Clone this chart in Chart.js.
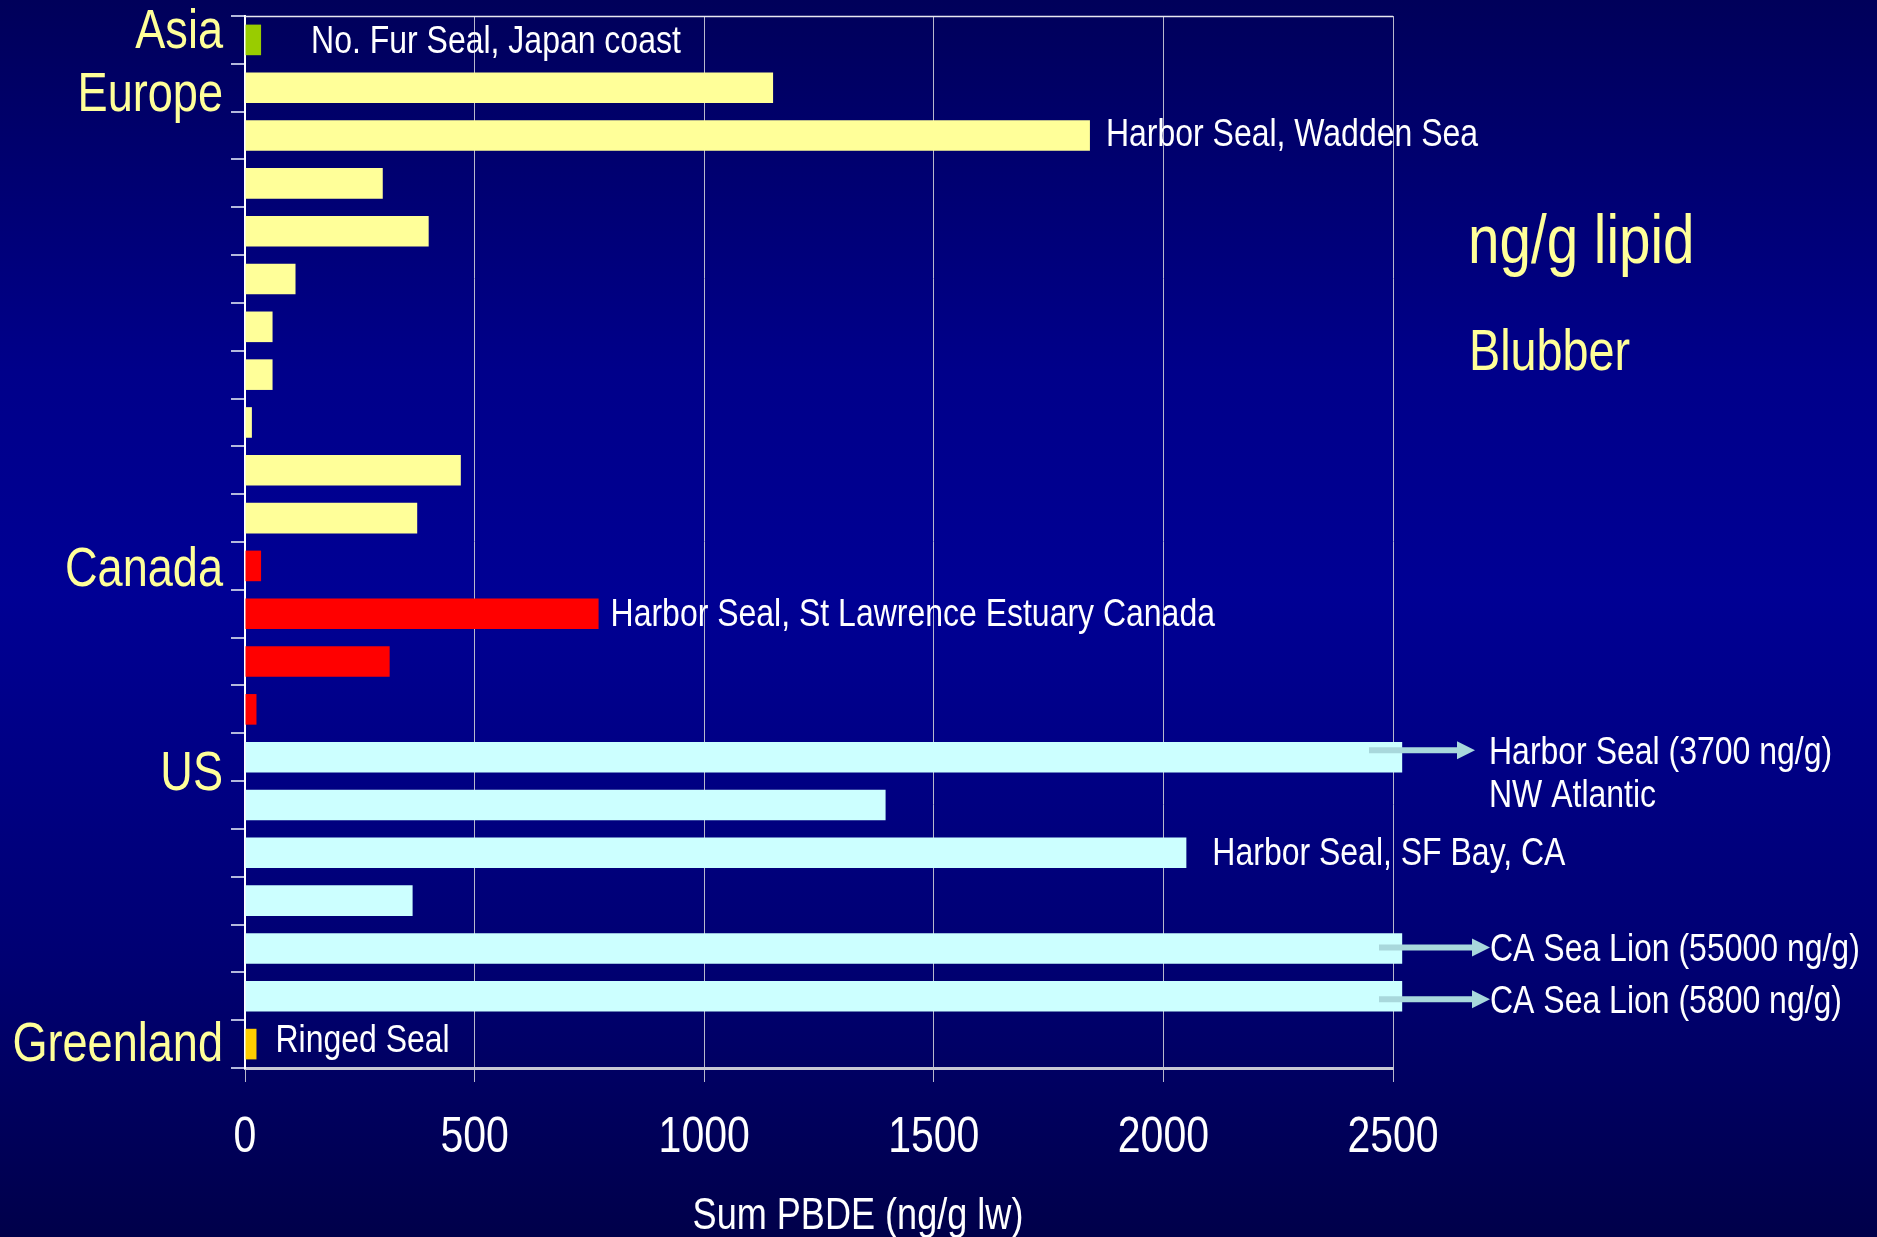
<!DOCTYPE html>
<html>
<head>
<meta charset="utf-8">
<script src="https://cdn.jsdelivr.net/npm/chart.js@4/dist/chart.umd.min.js"></script>
<style>
  html, body { margin: 0; padding: 0; }
  body {
    width: 1877px; height: 1237px; overflow: hidden;
    background: linear-gradient(to bottom, #00005a 0%, #00008a 30%, #000094 48%, #000072 78%, #00004a 100%);
  }
  #wrap { position: relative; width: 1877px; height: 1237px; }
</style>
</head>
<body>
<div id="wrap"><canvas id="pbde"></canvas></div>
<script>
// rows top to bottom; region name shown only on the first row of a group
const rowLabels = ['Asia', 'Europe', '', '', '', '', '', '', '', '', '',
                   'Canada', '', '', '', 'US', '', '', '', '', '', 'Greenland'];
const rowRegion = ['Asia',
                   'Europe', 'Europe', 'Europe', 'Europe', 'Europe', 'Europe', 'Europe', 'Europe', 'Europe', 'Europe',
                   'Canada', 'Canada', 'Canada', 'Canada',
                   'US', 'US', 'US', 'US', 'US', 'US',
                   'Greenland'];
// sum PBDE, ng/g lipid weight; off-scale bars (3700, 55000, 5800) are drawn just past the 2500 edge
const pbdeValues = [35,
                    1150, 1840, 300, 400, 110, 60, 60, 15, 470, 375,
                    35, 770, 315, 25,
                    2520, 1395, 2050, 365, 2520, 2520,
                    25];
const xTicks = [0, 500, 1000, 1500, 2000, 2500];

const regionColors = {
  Asia: '#99cc00',
  Europe: '#ffff99',
  Canada: '#ff0000',
  US: '#ccffff',
  Greenland: '#ffcc00'
};

// no narrow font installed: squeeze Liberation Sans sideways instead
const SQUEEZE = 0.82;
const FONT = "'Liberation Sans', Arial, sans-serif";

// text next to bars
const barNotes = [
  { row: 0, text: 'No. Fur Seal, Japan coast', gap: 50, dy: -1 },
  { row: 2, text: 'Harbor Seal, Wadden Sea', gap: 16, dy: -4 },
  { row: 12, text: 'Harbor Seal, St Lawrence Estuary Canada', gap: 12, dy: -2 },
  { row: 17, text: 'Harbor Seal, SF Bay, CA', gap: 26, dy: -2 },
  { row: 21, text: 'Ringed Seal', gap: 19, dy: -6 }
];
// arrows for bars that run off the scale
const arrowNotes = [
  { row: 15, lines: ['Harbor Seal (3700 ng/g)', 'NW Atlantic'], from: -24, to: 82, textX: 96, dy: -7 },
  { row: 19, lines: ['CA Sea Lion (55000 ng/g)'], from: -14, to: 97, textX: 97, dy: -1 },
  { row: 20, lines: ['CA Sea Lion (5800 ng/g)'], from: -14, to: 97, textX: 97, dy: 3 }
];
// small vertical nudges of the region names, as placed on the slide
const labelNudge = { 0: -12, 1: 4, 15: 13, 21: -3 };

// cy = visual middle of the capitals
function narrowText(ctx, text, x, cy, size, color, align) {
  ctx.save();
  ctx.font = size + 'px ' + FONT;
  ctx.fillStyle = color;
  ctx.textAlign = align || 'left';
  ctx.textBaseline = 'alphabetic';
  ctx.translate(x, cy + size * 0.358);
  ctx.scale(SQUEEZE, 1);
  ctx.fillText(text, 0, 0);
  ctx.restore();
}

const overlay = {
  id: 'overlay',
  beforeDatasetsDraw(chart) {
    const { ctx, chartArea: a } = chart;
    ctx.save();
    ctx.strokeStyle = '#e8e8f0';
    ctx.lineWidth = 1.5;
    ctx.beginPath();
    ctx.moveTo(a.left, a.top + 0.5);
    ctx.lineTo(a.right, a.top + 0.5);
    ctx.stroke();
    ctx.restore();
  },
  afterDraw(chart) {
    const { ctx, chartArea: a, scales } = chart;
    const x = scales.x, y = scales.y;

    // axis labels
    rowLabels.forEach((lab, i) => {
      if (!lab) return;
      narrowText(ctx, lab, a.left - 22, y.getPixelForValue(i) + (labelNudge[i] || 0), 55, '#ffff99', 'right');
    });
    xTicks.forEach(v => narrowText(ctx, String(v), x.getPixelForValue(v), 1134, 50, '#ffffff', 'center'));
    narrowText(ctx, 'Sum PBDE (ng/g lw)', (a.left + a.right) / 2 + 39, 1213, 44, '#ffffff', 'center');

    barNotes.forEach(n => {
      const px = x.getPixelForValue(pbdeValues[n.row]) + n.gap;
      narrowText(ctx, n.text, px, y.getPixelForValue(n.row) + n.dy, 39, '#ffffff');
    });

    arrowNotes.forEach(n => {
      const cy = y.getPixelForValue(n.row) + n.dy;
      const x0 = a.right + n.from, x1 = a.right + n.to;
      ctx.save();
      ctx.strokeStyle = '#a8d8dc';
      ctx.fillStyle = '#a8d8dc';
      ctx.lineWidth = 6;
      ctx.beginPath();
      ctx.moveTo(x0, cy);
      ctx.lineTo(x1 - 16, cy);
      ctx.stroke();
      ctx.beginPath();
      ctx.moveTo(x1, cy);
      ctx.lineTo(x1 - 18, cy - 9);
      ctx.lineTo(x1 - 18, cy + 9);
      ctx.closePath();
      ctx.fill();
      ctx.restore();
      n.lines.forEach((t, i) => narrowText(ctx, t, a.right + n.textX, cy + i * 43, 39, '#ffffff'));
    });

    narrowText(ctx, 'ng/g lipid', a.right + 75, a.top + 222, 69, '#ffff99');
    narrowText(ctx, 'Blubber', a.right + 76, a.top + 334, 57, '#ffff99');
  }
};

new Chart(document.getElementById('pbde'), {
  type: 'bar',
  data: {
    labels: rowLabels,
    datasets: [{
      data: pbdeValues,
      backgroundColor: rowRegion.map(r => regionColors[r]),
      borderWidth: 0,
      barPercentage: 0.64,
      categoryPercentage: 1,
      clip: false
    }]
  },
  options: {
    indexAxis: 'y',
    responsive: true,
    maintainAspectRatio: false,
    devicePixelRatio: 1,
    animation: false,
    layout: { padding: { top: 16, right: 484, left: 0, bottom: 0 } },
    plugins: { legend: { display: false }, tooltip: { enabled: false } },
    scales: {
      x: {
        type: 'linear',
        min: 0,
        max: 2500,
        afterBuildTicks: s => { s.ticks = xTicks.map(v => ({ value: v })); },
        afterFit: s => { s.height = 169; },
        grid: { color: '#b8b8cc', lineWidth: 1, tickLength: 14 },
        border: { color: '#c8c8d4', width: 3 },
        ticks: { color: 'rgba(0,0,0,0)', font: { size: 8 } }
      },
      y: {
        afterFit: s => { s.width = 245; },
        grid: { offset: true, drawOnChartArea: false, color: '#b4b8dc', lineWidth: 2, tickLength: 14 },
        border: { color: '#ffffff', width: 2 },
        ticks: { color: 'rgba(0,0,0,0)', autoSkip: false, font: { size: 8 } }
      }
    }
  },
  plugins: [overlay]
});
</script>
</body>
</html>
